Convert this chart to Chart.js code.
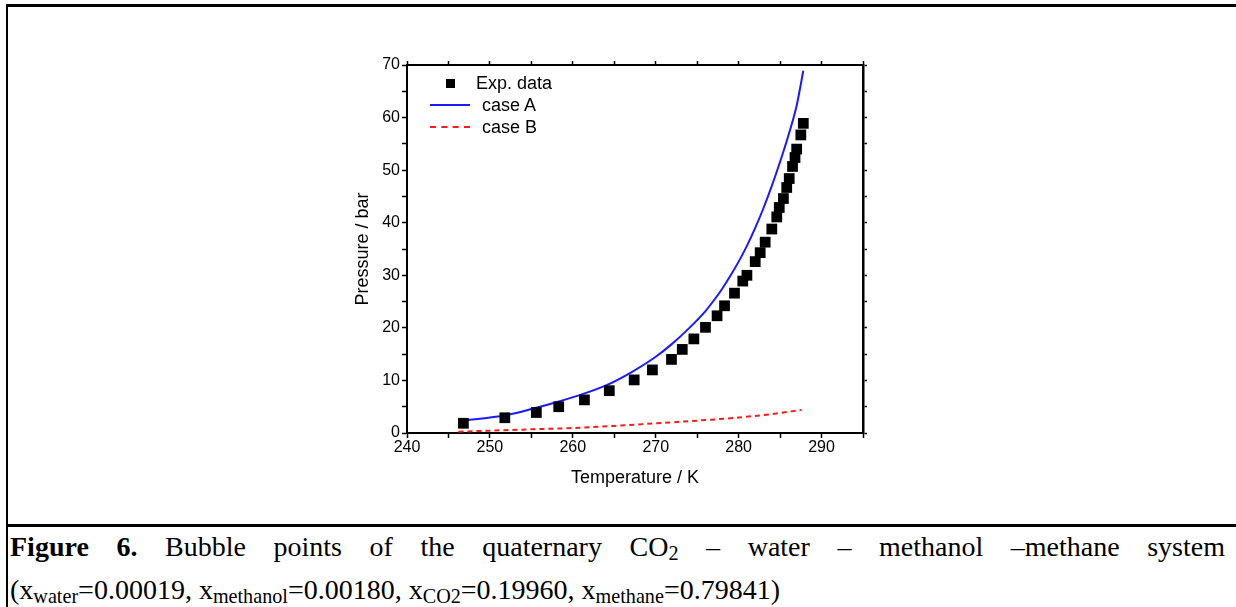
<!DOCTYPE html>
<html>
<head>
<meta charset="utf-8">
<script src="https://cdn.jsdelivr.net/npm/chart.js@4"></script>
<style>
  body { margin: 0; background: #fff; }
  #page { position: relative; width: 1236px; height: 607px; overflow: hidden; }
  .rule { position: absolute; background: #000; }
  #chartBox { position: absolute; left: 330px; top: 40px; width: 560px; height: 450px; }
  #legend { position: absolute; left: 428px; top: 72px; font: 18px "Liberation Sans", Arial, sans-serif; color: #000; }
  .row { position: relative; height: 22px; }
  .row span { position: absolute; top: 0; line-height: 22px; white-space: nowrap; }
  .sym { position: absolute; }
  #caption { position: absolute; left: 10px; top: 525px; width: 1215px; font: 28px "Liberation Serif", "Times New Roman", serif; color: #000; line-height: 43px; }
  #caption .l1 { text-align: justify; text-align-last: justify; white-space: nowrap; }
  #caption sub { font-size: 0.72em; vertical-align: -0.22em; line-height: 0; }
</style>
</head>
<body>
<div id="page">
  <div class="rule" style="left:6px; top:4px; width:1230px; height:3px;"></div>
  <div class="rule" style="left:6px; top:4px; width:2px; height:603px;"></div>
  <div class="rule" style="left:6px; top:524px; width:1230px; height:3px;"></div>

  <div id="chartBox"><canvas id="myChart"></canvas></div>

  <div id="legend">
    <div class="row"><div class="sym" style="left:18px; top:7px; width:9px; height:9px; background:#000;"></div><span style="left:48px;">Exp. data</span></div>
    <div class="row"><div class="sym" style="left:2px; top:10px; width:40px; height:2px; background:#1a1aff;"></div><span style="left:54px;">case A</span></div>
    <div class="row"><div class="sym" style="left:2px; top:10px; width:40px; height:0; border-top:2px dashed #ff1a1a;"></div><span style="left:54px;">case B</span></div>
  </div>

  <div id="caption">
    <div class="l1"><b>Figure 6.</b> Bubble points of the quaternary CO<sub>2</sub> – water – methanol –methane system</div>
    <div>(x<sub>water</sub>=0.00019, x<sub>methanol</sub>=0.00180, x<sub>CO2</sub>=0.19960, x<sub>methane</sub>=0.79841)</div>
  </div>
</div>

<script>
// Experimental bubble points (temperature in K, pressure in bar)
const expT = [246.8, 251.8, 255.6, 258.3, 261.4, 264.4, 267.4, 269.6, 271.9, 273.2, 274.6, 276.0, 277.4, 278.3, 279.5, 280.5,
              281.0, 282.0, 282.6, 283.2, 284.0, 284.6, 284.9, 285.4, 285.8, 286.1, 286.5, 286.8, 287.0, 287.5, 287.8];
const expP = [1.85, 2.9, 3.9, 5.0, 6.3, 8.05, 10.1, 12.0, 14.0, 15.9, 17.9, 20.1, 22.3, 24.2, 26.6, 28.9,
              30.0, 32.6, 34.3, 36.3, 38.8, 41.1, 42.9, 44.6, 46.7, 48.4, 50.7, 52.4, 54.0, 56.7, 58.9];

// Model curve, case A
const caseAT = [246.8, 250, 252, 255, 258, 261, 264, 267, 270, 272, 274, 276, 277, 278, 279, 280, 281, 282, 283, 284, 285, 286, 287, 287.8];
const caseAP = [2.35, 2.95, 3.4, 4.55, 5.85, 7.3, 9.05, 11.5, 14.5, 17.0, 19.9, 23.2, 25.2, 27.4, 29.9, 32.6, 35.6, 39.0, 42.8, 47.0, 51.6, 56.6, 62.3, 68.9];

// Model curve, case B
const caseBT = [246.2, 250, 255, 260, 265, 270, 275, 280, 284, 287.6];
const caseBP = [0.25, 0.45, 0.7, 0.95, 1.35, 1.85, 2.35, 2.95, 3.6, 4.4];

// Axis ranges
const xMin = 240, xMax = 295;
const yMin = 0, yMax = 70;

// Turn two arrays into {x, y} points
function toPoints(xs, ys) {
    return xs.map((x, i) => ({ x: x, y: ys[i] }));
}

const tickFont = { family: 'Liberation Sans', size: 16 };
const labelEvery10 = v => (v % 10 === 0 ? v : '');

const ctx = document.getElementById('myChart').getContext('2d');

const myChart = new Chart(ctx, {
    type: 'scatter',
    data: {
        datasets: [
            {
                label: 'Exp. data',
                data: toPoints(expT, expP),
                pointStyle: 'rect',
                pointRadius: 7.6,
                backgroundColor: '#000',
                borderColor: '#000',
                borderWidth: 0,
                showLine: false
            },
            {
                label: 'case A',
                data: toPoints(caseAT, caseAP),
                showLine: true,
                borderColor: '#1a1aff',
                borderWidth: 2,
                pointRadius: 0,
                cubicInterpolationMode: 'monotone'
            },
            {
                label: 'case B',
                data: toPoints(caseBT, caseBP),
                showLine: true,
                borderColor: '#ff1a1a',
                borderWidth: 2,
                borderDash: [5, 4],
                pointRadius: 0,
                cubicInterpolationMode: 'monotone'
            }
        ]
    },
    options: {
        responsive: true,
        maintainAspectRatio: false,
        animation: false,
        layout: { padding: 0 },
        plugins: {
            legend: { display: false },
            tooltip: { enabled: false }
        },
        scales: {
            x: {
                type: 'linear',
                position: 'bottom',
                min: xMin,
                max: xMax,
                afterFit: s => { s.height = 57; },
                ticks: { stepSize: 5, autoSkip: false, maxRotation: 0, color: '#000', font: tickFont, padding: 0, callback: labelEvery10 },
                grid: { drawOnChartArea: false, tickLength: 5, tickColor: '#000', tickWidth: 1.5 },
                border: { color: '#000', width: 2 },
                title: { display: true, text: 'Temperature / K', color: '#000', font: { family: 'Liberation Sans', size: 18 }, padding: { top: 0, bottom: 1 } }
            },
            xTop: {
                type: 'linear',
                position: 'top',
                min: xMin,
                max: xMax,
                afterFit: s => { s.height = 25; },
                ticks: { stepSize: 5, display: false },
                grid: { drawOnChartArea: false, tickLength: 4, tickColor: '#000', tickWidth: 1.5 },
                border: { color: '#000', width: 2 }
            },
            y: {
                type: 'linear',
                position: 'left',
                min: yMin,
                max: yMax,
                afterFit: s => { s.width = 77; },
                ticks: { stepSize: 5, autoSkip: false, color: '#000', font: tickFont, padding: 2, callback: labelEvery10 },
                grid: { drawOnChartArea: false, tickLength: 5, tickColor: '#000', tickWidth: 1.5 },
                border: { color: '#000', width: 2 },
                title: { display: true, text: 'Pressure / bar', color: '#000', font: { family: 'Liberation Sans', size: 18 }, padding: { top: 22, bottom: 0 } }
            },
            yRight: {
                type: 'linear',
                position: 'right',
                min: yMin,
                max: yMax,
                afterFit: s => { s.width = 27; },
                ticks: { stepSize: 5, display: false },
                grid: { drawOnChartArea: false, tickLength: 4, tickColor: '#000', tickWidth: 1.5 },
                border: { color: '#000', width: 2.5 }
            }
        }
    }
});
</script>
</body>
</html>
